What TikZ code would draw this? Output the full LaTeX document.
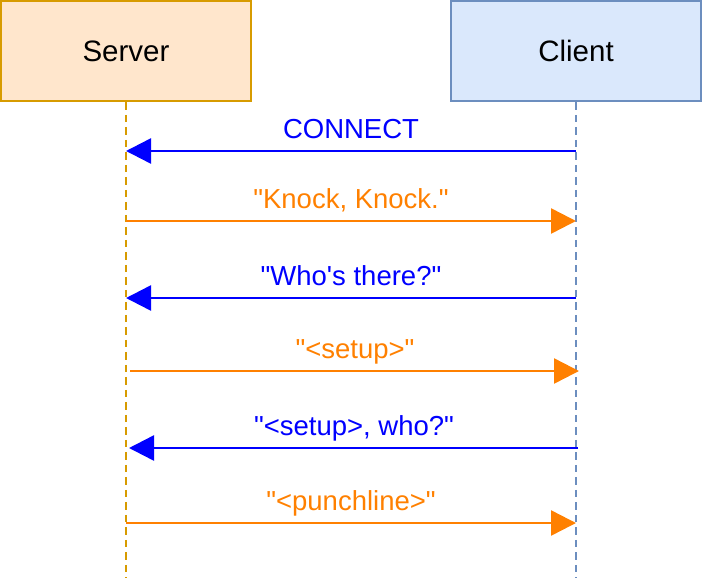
\documentclass[tikz,border=0pt]{standalone}
\usepackage{fontspec}
\setmainfont{Liberation Sans}[Ligatures=TeXOff]
\usetikzlibrary{arrows.meta}
\definecolor{srvfill}{HTML}{FFE6CC}
\definecolor{srvdraw}{HTML}{D79B00}
\definecolor{clifill}{HTML}{DAE8FC}
\definecolor{clidraw}{HTML}{6C8EBF}
\definecolor{msgorange}{HTML}{FF8000}
\definecolor{msgblue}{HTML}{0000FF}
\tikzset{
  actor/.style={draw, line width=2.5pt, minimum width=250pt, minimum height=100pt, inner sep=0pt, font=\fontsize{29.5}{35}\selectfont},
  lifeline/.style={line width=2.5pt, dash pattern=on 7.5pt off 5pt},
  msg/.style={line width=2.5pt, -{Triangle[length=25pt,width=25pt]}},
  msglabel/.style={anchor=base, inner sep=0pt, font=\fontsize{27.5}{33}\selectfont},
}
\begin{document}
\begin{tikzpicture}[x=1pt,y=-1pt]
\useasboundingbox (0,0) rectangle (703,578);
\node[actor, fill=srvfill, draw=srvdraw] (server) at (126,51) {Server};
\node[actor, fill=clifill, draw=clidraw] (client) at (576,51) {Client};
\coordinate (sEnd) at (126,578);
\coordinate (cEnd) at (576,578);
\draw[lifeline, srvdraw] (server.south) -- (sEnd);
\draw[lifeline, clidraw] (client.south) -- (cEnd);
% message endpoints
\coordinate (c1) at (576,151); \coordinate (s1) at (126,151);
\coordinate (s2) at (126,221); \coordinate (c2) at (576,221);
\coordinate (c3) at (576,298); \coordinate (s3) at (126,298);
\coordinate (s4) at (130,371); \coordinate (c4) at (579,371);
\coordinate (c5) at (578,448); \coordinate (s5) at (129,448);
\coordinate (s6) at (126,523); \coordinate (c6) at (576,523);
\draw[msg, msgblue] (c1) -- (s1);
\draw[msg, msgorange] (s2) -- (c2);
\draw[msg, msgblue] (c3) -- (s3);
\draw[msg, msgorange] (s4) -- (c4);
\draw[msg, msgblue] (c5) -- (s5);
\draw[msg, msgorange] (s6) -- (c6);
\node[msglabel, text=msgblue] (l1) at (351,138) {CONNECT};
\node[msglabel, text=msgorange] (l2) at (351,208) {"Knock, Knock."};
\node[msglabel, text=msgblue] (l3) at (351,285) {"Who's there?"};
\node[msglabel, text=msgorange] (l4) at (355,358) {"<setup>"};
\node[msglabel, text=msgblue] (l5) at (354,435) {"<setup>, who?"};
\node[msglabel, text=msgorange] (l6) at (351,510) {"<punchline>"};
\end{tikzpicture}
\end{document}
